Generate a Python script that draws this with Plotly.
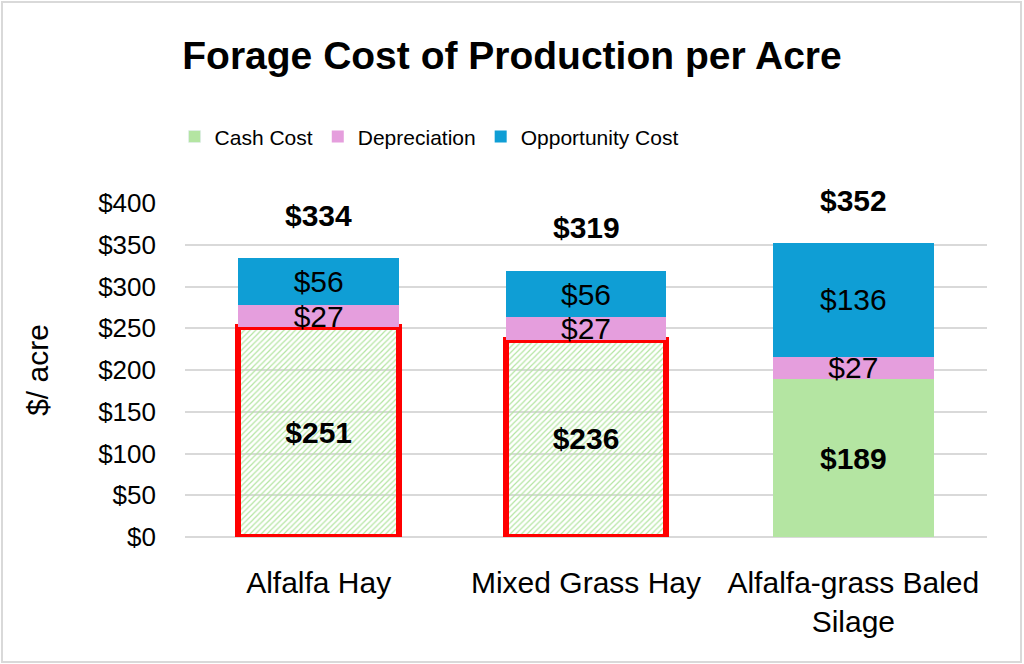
import plotly.graph_objects as go

categories = ["Alfalfa Hay", "Mixed Grass Hay", "Alfalfa-grass Baled<br>Silage"]
cash_cost = [251, 236, 189]
depreciation = [27, 27, 27]
opportunity_cost = [56, 56, 136]
totals = [334, 319, 352]
y_ticks = [0, 50, 100, 150, 200, 250, 300, 350, 400]

W, H = 1024, 664
L, R, T, B = 185, 37, 203, 127

GREEN = "#B4E5A2"
HATCH = "#B4E5A2"
PINK = "#E59EDD"
BLUE = "#0F9ED5"
LABEL_FONT = dict(family="Liberation Sans, Arial, sans-serif", size=30, color="black")

fig = go.Figure()

# cash cost: first two bars hatched with a red outline, third solid
# (with per-point colours plotly uses the marker colour for the hatch lines)
fig.add_trace(go.Bar(
    x=categories, y=cash_cost, name="Cash Cost", showlegend=False,
    marker=dict(
        color=[HATCH, HATCH, GREEN],
        pattern=dict(shape=["/", "/", ""], fillmode="replace", size=4, solidity=0.3),
        line=dict(color=["#FF0000", "#FF0000", "rgba(0,0,0,0)"], width=[6, 6, 0]),
    ),
    texttemplate="<b>$%{y}</b>", textposition="inside", insidetextanchor="middle",
    textangle=0, textfont=LABEL_FONT,
))
# legend entry for cash cost as a plain swatch
fig.add_trace(go.Bar(x=[categories[0]], y=[None], name="Cash Cost", marker_color=GREEN))

fig.add_trace(go.Bar(
    x=categories, y=depreciation, name="Depreciation", marker=dict(color=PINK, line_width=0),
    texttemplate="$%{y}", textposition="inside", insidetextanchor="middle",
    textangle=0, textfont=LABEL_FONT,
))
fig.add_trace(go.Bar(
    x=categories, y=opportunity_cost, name="Opportunity Cost", marker=dict(color=BLUE, line_width=0),
    texttemplate="$%{y}", textposition="inside", insidetextanchor="middle",
    textangle=0, textfont=LABEL_FONT,
))

for c, t in zip(categories, totals):
    fig.add_annotation(x=c, y=t, text=f"<b>${t}</b>", showarrow=False,
                       yshift=43, font=LABEL_FONT)

# grey outer border of the chart
fig.add_shape(type="rect", xref="paper", yref="paper",
              x0=-(L - 2) / (W - L - R), x1=1 + (R - 3) / (W - L - R),
              y0=-(B - 2) / (H - T - B), y1=1 + (T - 2) / (H - T - B),
              line=dict(color="#D9D9D9", width=2), layer="below")

fig.update_layout(
    width=W, height=H,
    margin=dict(l=L, r=R, t=T, b=B, autoexpand=False),
    barmode="stack", bargap=0.4,
    plot_bgcolor="white", paper_bgcolor="white",
    uniformtext=dict(minsize=30, mode="show"),
    title=dict(text="<b>Forage Cost of Production per Acre</b>", x=0.5, xref="container",
               xanchor="center", y=1 - 55 / H, yanchor="middle",
               font=dict(family="Liberation Sans, Arial, sans-serif", size=39, color="black")),
    legend=dict(orientation="h", x=-0.013, xanchor="left", y=1.198, yanchor="middle",
                traceorder="normal", itemclick=False,
                font=dict(family="Liberation Sans, Arial, sans-serif", size=21, color="black")),
    font=dict(family="Liberation Sans, Arial, sans-serif", color="black"),
)

fig.update_xaxes(tickfont=dict(size=30), ticklabelstandoff=25, showline=False)
fig.update_yaxes(range=[0, 400], tickvals=y_ticks, ticktext=[f"${v}" for v in y_ticks],
                 tickfont=dict(size=26), ticklabelstandoff=28,
                 showgrid=True, gridcolor="#D9D9D9", gridwidth=2, zeroline=True,
                 zerolinecolor="#D9D9D9", zerolinewidth=2,
                 title=dict(text="$/ acre", font=dict(size=30), standoff=40))

fig.write_html("out.html", config={"displayModeBar": False},
               post_script="document.body.style.margin='0';")
